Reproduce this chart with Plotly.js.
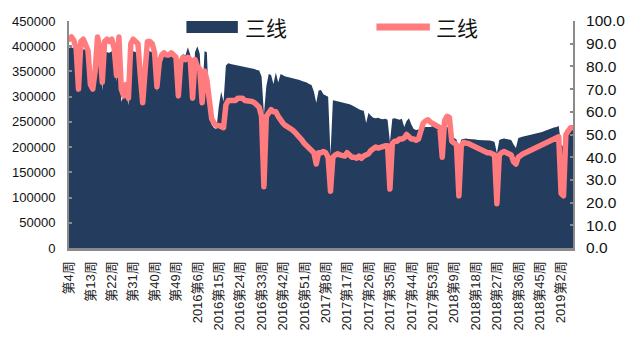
<!DOCTYPE html>
<html>
<head>
<meta charset="utf-8">
<script src="https://cdn.plot.ly/plotly-3.0.1.min.js"></script>
<style>
  html, body { margin: 0; padding: 0; background: #fff; }
  #chart { width: 634px; height: 338px; }
  .scatterlayer path.js-line { stroke-linejoin: round !important; stroke-linecap: round !important; }
</style>
</head>
<body>
<div id="chart"></div>
<script>
// Weekly categories: [year prefix, first week, last week]
const weekSpans = [['', 4, 52], ['2016', 1, 52], ['2017', 1, 53], ['2018', 1, 52], ['2019', 1, 7]];

// Every ninth week is labelled on the x axis
const tickLabels = ['第4周', '第13周', '第22周', '第31周', '第40周', '第49周',
  '2016第6周', '2016第15周', '2016第24周', '2016第33周', '2016第42周', '2016第51周',
  '2017第8周', '2017第17周', '2017第26周', '2017第35周', '2017第44周', '2017第53周',
  '2018第9周', '2018第18周', '2018第27周', '2018第36周', '2018第45周', '2019第2周'];

// Area series (left axis)
const areaValues = [
  397000, 398000, 396000, 390000, 308000, 392000, 394000, 393000, 386000, 318000,
  310000, 345000, 396000, 382000, 312000, 390000, 388000, 387000, 390000, 386000,
  330000, 396000, 290000, 300000, 312000, 283000, 385000, 390000, 388000, 387000,
  330000, 285000, 340000, 392000, 390000, 388000, 372000, 310000, 352000, 384000,
  386000, 385000, 384000, 388000, 385000, 383000, 300000, 380000, 384000, 382000,
  398000, 383000, 295000, 388000, 400000, 385000, 290000, 390000, 388000, 262000,
  245000, 238000, 236000, 280000, 310000, 290000, 362000, 366000, 365000, 364000,
  363000, 362000, 362000, 361000, 360000, 359000, 358000, 356000, 355000, 353000,
  352000, 340000, 265000, 320000, 345000, 343000, 325000, 348000, 328000, 345000,
  342000, 340000, 339000, 338000, 337000, 336000, 334000, 333000, 331000, 330000,
  328000, 325000, 323000, 310000, 288000, 312000, 313000, 305000, 302000, 300000,
  185000, 293000, 292000, 291000, 290000, 289000, 288000, 287000, 285000, 283000,
  280000, 278000, 275000, 273000, 272000, 248000, 268000, 262000, 258000, 257000,
  258000, 256000, 255000, 256000, 254000, 210000, 256000, 257000, 256000, 254000,
  256000, 240000, 252000, 257000, 245000, 236000, 234000, 235000, 240000, 241000,
  240000, 240000, 240000, 242000, 240000, 238000, 236000, 215000, 238000, 240000,
  238000, 225000, 218000, 215000, 195000, 215000, 216000, 217000, 216000, 216000,
  215000, 215000, 214000, 214000, 213000, 214000, 214000, 213000, 212000, 210000,
  188000, 214000, 216000, 217000, 216000, 215000, 214000, 205000, 198000, 218000,
  220000, 221000, 222000, 223000, 224000, 225000, 226000, 227000, 228000, 230000,
  232000, 234000, 236000, 238000, 239000, 240000, 242000, 205000, 200000, 235000,
  238000, 240000, 241000
];

// Line series (right axis)
const lineValues = [
  92, 93, 91.5, 88, 70, 91, 92, 89, 87, 72,
  70, 78, 93, 88, 73, 91, 92, 91, 92, 88,
  76, 93, 70, 67, 72, 66, 90, 92, 91, 90,
  76, 64, 78, 91, 91, 90, 86, 71, 82, 85,
  86, 85, 85, 86, 85, 84, 67, 82, 84, 83,
  84, 83, 66, 83, 80, 79, 64, 78, 74, 65,
  57, 55, 54, 54, 53.5, 53, 63, 65, 65, 65,
  65, 66, 66, 66, 65, 65, 64.5, 64.5, 64, 63,
  62, 58, 27, 58, 60, 61, 60, 60, 58, 56,
  55, 54, 53.5, 53, 52, 51, 50, 49, 47.5, 46,
  45, 44, 43, 42, 37, 42, 42, 42.5, 42, 40,
  25, 40, 41, 41.5, 41, 40.5, 40.5, 42, 41, 40,
  40, 39.5, 40.5, 39.5, 40.5, 41, 41.5, 43, 44, 44.5,
  44, 44.5, 45, 45, 45, 26, 46, 47, 47, 48,
  48, 48.5, 50, 49, 48, 48, 47.5, 48, 51, 55,
  56, 56.5, 55.5, 55, 54, 54, 53, 40, 56, 58,
  57.5, 47, 46, 45.5, 23, 45, 46.5, 46.5, 46, 45.5,
  45, 44, 43.5, 43, 42.5, 42, 42, 42, 41.5, 41,
  19.5, 41, 42, 42.5, 42, 41.5, 41, 38, 37, 40,
  41, 41.5, 42, 42.5, 43, 43.5, 44, 44, 45, 45,
  45.5, 46, 46.5, 47, 48, 48, 49, 24, 23, 50,
  52, 53, 53
];

const seriesName = '三线';
const areaColor = '#243d5f';
const lineColor = '#ff7b7d';

const categories = [];
weekSpans.forEach(([yr, from, to]) => {
  for (let w = from; w <= to; w++) categories.push(yr + '第' + w + '周');
});

const axisGrey = '#8a8a8a';
const font = 'Liberation Sans, Arial, "Noto Sans CJK SC", sans-serif';

const traces = [
  {
    type: 'scatter', x: categories, y: areaValues, name: seriesName,
    mode: 'lines', fill: 'tozeroy', fillcolor: areaColor,
    line: { width: 0, color: areaColor }, yaxis: 'y', showlegend: false, hoverinfo: 'skip'
  },
  {
    type: 'scatter', x: categories, y: lineValues, name: seriesName,
    mode: 'lines', line: { width: 5.5, color: lineColor, shape: 'linear' },
    yaxis: 'y2', showlegend: false, hoverinfo: 'skip'
  }
];

// Hand-drawn legend in paper coordinates
const legendY = 0.974;
const layout = {
  width: 634, height: 338,
  margin: { l: 69, r: 61, t: 21, b: 90, pad: 0 },
  paper_bgcolor: '#fff', plot_bgcolor: '#fff',
  font: { family: font, color: '#111', size: 13 },
  showlegend: false,
  xaxis: {
    type: 'category', categoryorder: 'array', categoryarray: categories,
    range: [0, categories.length - 1],
    tickmode: 'array', tickvals: tickLabels, ticktext: tickLabels,
    tickangle: -90, tickfont: { size: 13, family: font, color: '#222' },
    ticks: '', showgrid: false, zeroline: false,
    showline: true, linecolor: axisGrey, linewidth: 3, ticklabelstandoff: 5
  },
  yaxis: {
    range: [0, 450000], dtick: 50000, tick0: 0, tickformat: 'd',
    ticks: 'inside', ticklen: 3, tickcolor: axisGrey, tickwidth: 2,
    showline: true, linecolor: axisGrey, linewidth: 2,
    showgrid: false, zeroline: false,
    tickfont: { size: 13, family: font, color: '#111' }, ticklabelstandoff: 9
  },
  yaxis2: {
    overlaying: 'y', side: 'right',
    range: [0, 100], dtick: 10, tick0: 0, tickformat: '.1f',
    ticks: 'inside', ticklen: 3, tickcolor: axisGrey, tickwidth: 2,
    showline: true, linecolor: axisGrey, linewidth: 2,
    showgrid: false, zeroline: false,
    tickfont: { size: 15.5, family: font, color: '#111' }, ticklabelstandoff: 8
  },
  shapes: [
    { type: 'rect', xref: 'paper', yref: 'paper', x0: 0.233, x1: 0.335, y0: 0.947, y1: 1.0,
      fillcolor: areaColor, line: { width: 0 }, layer: 'above' },
    { type: 'line', xref: 'paper', yref: 'paper', x0: 0.61, x1: 0.716, y0: legendY, y1: legendY,
      line: { color: lineColor, width: 7 }, layer: 'above' }
  ],
  annotations: [
    { xref: 'paper', yref: 'paper', x: 0.345, y: legendY, xanchor: 'left', yanchor: 'middle',
      text: seriesName, showarrow: false, font: { size: 21, family: '"Noto Sans CJK SC", sans-serif', color: '#111' } },
    { xref: 'paper', yref: 'paper', x: 0.725, y: legendY, xanchor: 'left', yanchor: 'middle',
      text: seriesName, showarrow: false, font: { size: 21, family: '"Noto Sans CJK SC", sans-serif', color: '#111' } }
  ]
};

Plotly.newPlot('chart', traces, layout, { staticPlot: true, displayModeBar: false });
</script>
</body>
</html>
